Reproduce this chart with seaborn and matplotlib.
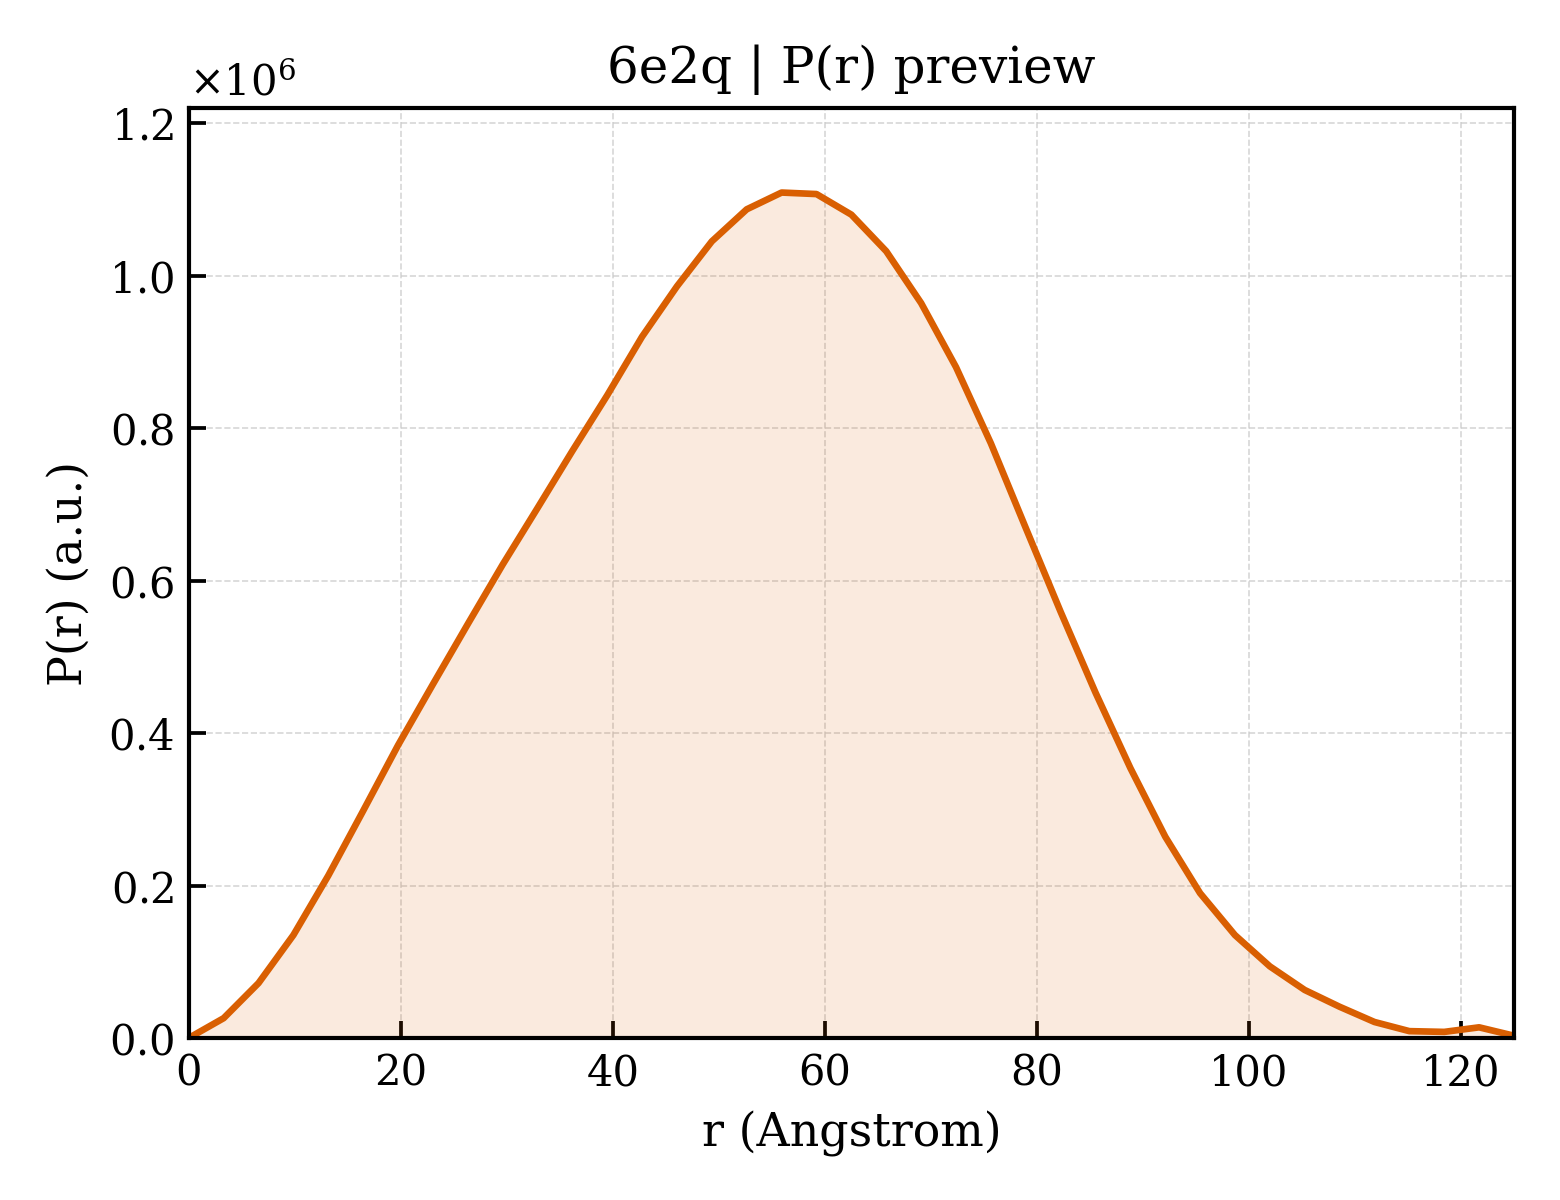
import matplotlib
matplotlib.use("Agg")
import matplotlib.pyplot as plt
import seaborn as sns
import pandas as pd

r_vals = [0.00, 3.29, 6.58, 9.87, 13.16, 16.45, 19.74, 23.03, 26.32, 29.61,
          32.89, 36.18, 39.47, 42.76, 46.05, 49.34, 52.63, 55.92, 59.21, 62.50,
          65.79, 69.08, 72.37, 75.66, 78.95, 82.24, 85.53, 88.82, 92.11, 95.39,
          98.68, 101.97, 105.26, 108.55, 111.84, 115.13, 118.42, 121.71, 125.00]
pr_vals = [0.000, 0.026, 0.072, 0.135, 0.213, 0.298, 0.384, 0.464, 0.543, 0.621,
           0.695, 0.770, 0.843, 0.920, 0.986, 1.045, 1.087, 1.109, 1.107, 1.080,
           1.032, 0.964, 0.880, 0.780, 0.669, 0.559, 0.453, 0.354, 0.264, 0.190,
           0.135, 0.094, 0.063, 0.041, 0.021, 0.009, 0.008, 0.014, 0.003]
pr_vals = [v * 1e6 for v in pr_vals]

title = "6e2q | P(r) preview"
x_label = "r (Angstrom)"
y_label = "P(r) (a.u.)"
line_color = "#d95f02"

df = pd.DataFrame({"r": r_vals, "pr": pr_vals})

sns.set_theme(style="ticks")
plt.rcParams["font.family"] = ["DejaVu Serif"]
plt.rcParams["mathtext.fontset"] = "dejavuserif"
# plain black text like the original
plt.rcParams["text.color"] = "black"
plt.rcParams["axes.labelcolor"] = "black"
plt.rcParams["xtick.color"] = "black"
plt.rcParams["ytick.color"] = "black"

fig, ax = plt.subplots(figsize=(5.2, 4), dpi=300)
fig.subplots_adjust(left=0.121, right=0.9705, bottom=0.135, top=0.91)

ax.fill_between(df["r"], df["pr"], 0, color=line_color, alpha=0.13, linewidth=0)
sns.lineplot(data=df, x="r", y="pr", ax=ax, color=line_color, linewidth=1.6)

ax.set_xlim(0, 125)
ax.set_ylim(0, max(pr_vals) * 1.1)
ax.set_xticks([0, 20, 40, 60, 80, 100, 120])
ax.set_yticks([0, 0.2e6, 0.4e6, 0.6e6, 0.8e6, 1.0e6, 1.2e6])
ax.ticklabel_format(axis="y", style="sci", scilimits=(0, 0), useMathText=True)

ax.grid(True, linestyle="--", linewidth=0.4, color="#cccccc", alpha=0.8)
ax.tick_params(direction="in", length=4, width=0.9, labelsize=10, colors="black")
for s in ax.spines.values():
    s.set_linewidth(1.0)
    s.set_color("black")

ax.set_title(title, fontsize=12, color="black")
ax.set_xlabel(x_label, fontsize=11)
ax.set_ylabel(y_label, fontsize=11)
ax.yaxis.get_offset_text().set_fontsize(10)
ax.yaxis.get_offset_text().set_color("black")

fig.savefig("out.png", dpi=300)
